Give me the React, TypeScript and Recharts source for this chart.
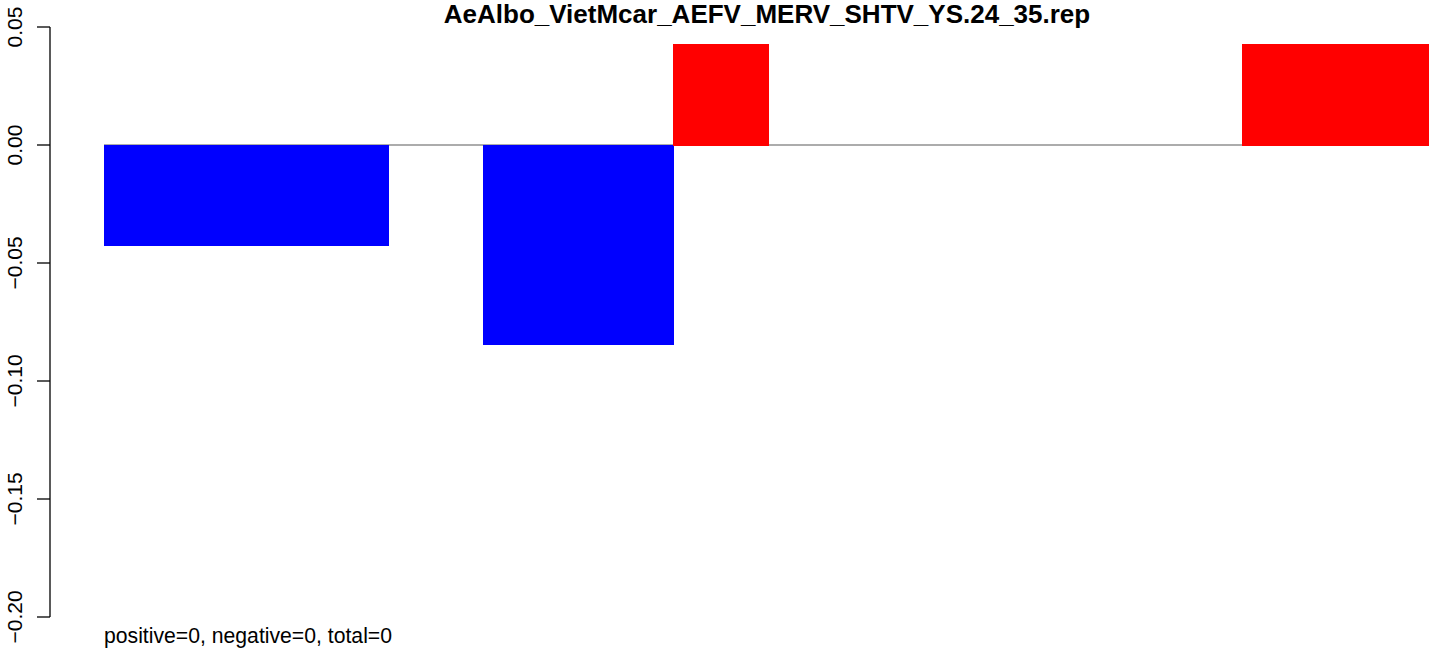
import { BarChart, Bar, XAxis, YAxis, Cell, ReferenceLine } from 'recharts'

const bins = ['1', '2', '3', '4', '5', '6', '7', '8', '9', '10', '11', '12', '13', '14']
const values = [-0.0424, -0.0424, -0.0424, 0, -0.0847, -0.0847, 0.0424, 0, 0, 0, 0, 0, 0.0424, 0.0424]
const yTicks = [-0.2, -0.15, -0.1, -0.05, 0, 0.05]
const title = 'AeAlbo_VietMcar_AEFV_MERV_SHTV_YS.24_35.rep'
const note = 'positive=0, negative=0, total=0'

const FONT = '"Liberation Sans", Arial, Helvetica, sans-serif'

const data = bins.map((b, i) => ({ bin: b, value: values[i] }))

const fmt = (v: number) => v.toFixed(2).replace('-', '\u2212')

// R style axis: sits 54px left of the first bar
const AxisTick = (props: any) => {
  const { y, payload } = props
  return (
    <text
      transform={`translate(22, ${y}) rotate(-90)`}
      textAnchor="middle"
      fontSize={21}
      fontFamily={FONT}
      fill="#000"
    >
      {fmt(payload.value)}
    </text>
  )
}

export default function App() {
  return (
    <div style={{ position: 'absolute', left: 0, top: 0, width: 1429, height: 651, overflow: 'hidden', background: '#fff' }}>
      <BarChart
        width={1432}
        height={651}
        data={data}
        margin={{ top: 27, right: 0, bottom: 34, left: 0 }}
        barCategoryGap={0}
      >
        <XAxis dataKey="bin" hide />
        <YAxis
          width={104}
          domain={[-0.2, 0.05]}
          ticks={yTicks}
          interval={0}
          tickSize={13}
          axisLine={{ stroke: '#000', strokeWidth: 1.3, transform: 'translate(-54,0)' }}
          tickLine={{ stroke: '#000', strokeWidth: 1.3, transform: 'translate(-54,0)' }}
          tick={<AxisTick />}
          allowDataOverflow
        />
        <ReferenceLine y={0} stroke="#5a5a5a" strokeWidth={1.2} zIndex={-10} />
        <Bar dataKey="value" isAnimationActive={false}>
          {data.map((d, i) => {
            const c = d.value < 0 ? '#0000ff' : '#ff0000'
            return <Cell key={i} fill={c} stroke={c} strokeWidth={1} shapeRendering="crispEdges" />
          })}
        </Bar>
        <text x={767} y={23} textAnchor="middle" fontSize={26} fontWeight="bold" fontFamily={FONT} fill="#000">
          {title}
        </text>
        <text x={104} y={643} fontSize={21.2} fontFamily={FONT} fill="#000">
          {note}
        </text>
      </BarChart>
    </div>
  )
}
